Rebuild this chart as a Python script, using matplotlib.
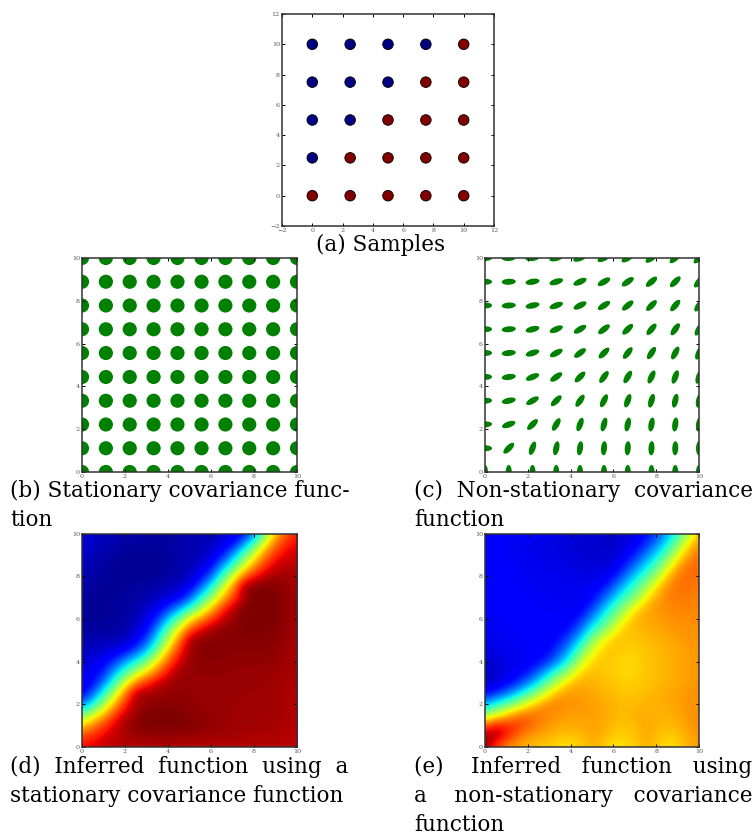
import numpy as np
import matplotlib
matplotlib.use("Agg")
import matplotlib.pyplot as plt
from matplotlib.collections import EllipseCollection

W, H = 756, 835
SERIF = "DejaVu Serif"
TICK_GREY = "#555555"

sample_x = [0, 2.5, 5, 7.5, 10]
sample_y = [0, 2.5, 5, 7.5, 10]
sample_class = [
    [1, 1, 1, 1, 1],
    [0, 1, 1, 1, 1],
    [0, 0, 1, 1, 1],
    [0, 0, 0, 1, 1],
    [0, 0, 0, 0, 1],
]
grid_xy = [0, 1.11, 2.22, 3.33, 4.44, 5.56, 6.67, 7.78, 8.89, 10]
angles = [
    [90, 90, 90, 90, 90, 90, 90, 90, 90, 90],
    [0, 45, 70, 78, 82, 85, 86, 87, 88, 89],
    [5, 20, 45, 60, 70, 75, 78, 80, 82, 83],
    [3, 12, 30, 45, 56, 64, 70, 74, 77, 79],
    [2, 8, 22, 35, 45, 54, 60, 65, 70, 72],
    [1, 6, 18, 28, 37, 45, 52, 57, 62, 66],
    [1, 5, 14, 23, 31, 38, 45, 50, 55, 60],
    [1, 4, 12, 20, 27, 33, 40, 45, 50, 55],
    [0, 3, 10, 17, 24, 30, 35, 41, 45, 50],
    [0, 3, 8, 15, 21, 26, 31, 36, 41, 45],
]
field_d = [
    [.90, .92, .94, .95, .95, .95, .95, .95, .95, .95, .95, .95, .95, .95, .95, .95, .95, .95, .95, .95, .94],
    [.84, .87, .91, .94, .96, .97, .98, .98, .98, .98, .97, .97, .97, .97, .97, .96, .96, .96, .96, .95, .94],
    [.68, .78, .85, .92, .97, .99, 1.0, 1.0, 1.0, 1.0, 1.0, .99, .98, .98, .97, .97, .97, .97, .96, .96, .95],
    [.50, .60, .72, .85, .94, .98, 1.0, 1.0, 1.0, 1.0, .99, .98, .98, .98, .97, .97, .97, .97, .97, .96, .95],
    [.25, .38, .55, .72, .87, .96, .98, .99, .99, .99, .98, .98, .98, .98, .97, .97, .97, .97, .97, .96, .95],
    [.10, .22, .40, .58, .78, .96, .97, .97, .98, .98, .98, .98, .98, .98, .98, .97, .97, .97, .97, .96, .95],
    [.10, .12, .25, .42, .62, .77, .87, .93, .97, .98, .98, .98, .98, .98, .98, .98, .98, .97, .97, .96, .96],
    [.09, .11, .15, .30, .42, .57, .68, .80, .90, .97, .98, .98, .98, .98, .98, .98, .98, .98, .97, .97, .96],
    [.07, .09, .11, .17, .28, .38, .50, .66, .82, .92, .98, .99, .99, .99, .98, .98, .98, .98, .98, .97, .96],
    [.05, .06, .07, .09, .12, .20, .32, .50, .70, .87, .97, .99, .99, .99, .99, .99, .99, .99, .98, .97, .96],
    [.04, .05, .05, .05, .06, .10, .20, .38, .58, .78, .97, .99, .99, .99, .99, .99, .99, .99, .99, .98, .96],
    [.03, .03, .03, .03, .04, .07, .12, .27, .47, .65, .82, .91, .97, .99, .99, 1.0, 1.0, 1.0, .99, .98, .96],
    [.02, .02, .02, .03, .03, .05, .09, .16, .32, .47, .65, .75, .85, .93, .98, 1.0, 1.0, 1.0, 1.0, .98, .97],
    [.03, .02, .02, .03, .03, .04, .07, .10, .17, .27, .40, .55, .70, .85, .95, 1.0, 1.0, 1.0, 1.0, .98, .97],
    [.03, .02, .02, .02, .03, .03, .04, .06, .08, .11, .20, .38, .52, .70, .83, .96, 1.0, 1.0, 1.0, .98, .97],
    [.04, .03, .02, .02, .02, .03, .03, .04, .05, .07, .10, .22, .38, .58, .75, .98, 1.0, 1.0, .99, .98, .96],
    [.05, .03, .03, .02, .02, .02, .02, .02, .03, .04, .06, .11, .22, .42, .60, .78, .89, .95, .97, .97, .96],
    [.06, .04, .03, .02, .02, .02, .02, .02, .03, .04, .05, .08, .12, .27, .42, .60, .75, .86, .93, .95, .94],
    [.07, .05, .04, .03, .02, .02, .02, .02, .03, .04, .04, .05, .08, .13, .28, .45, .62, .78, .87, .92, .93],
    [.08, .06, .05, .04, .03, .03, .03, .03, .03, .04, .04, .05, .06, .09, .12, .27, .45, .65, .80, .88, .91],
    [.08, .07, .06, .05, .04, .04, .03, .03, .03, .04, .04, .04, .05, .07, .09, .12, .25, .50, .70, .82, .88],
]
field_e = [
    [.99, .83, .76, .73, .71, .70, .69, .67, .67, .69, .72, .70, .66, .67, .69, .72, .70, .67, .68, .72, .75],
    [.98, .96, .88, .80, .75, .73, .72, .70, .70, .71, .73, .72, .69, .69, .70, .73, .71, .69, .70, .73, .75],
    [.82, .90, .88, .85, .81, .77, .75, .73, .73, .73, .74, .73, .71, .70, .71, .73, .72, .71, .72, .74, .76],
    [.55, .62, .70, .78, .80, .79, .76, .75, .74, .74, .74, .73, .72, .71, .72, .73, .72, .72, .73, .75, .76],
    [.30, .38, .47, .55, .65, .72, .77, .77, .75, .75, .74, .73, .72, .71, .71, .72, .72, .73, .74, .75, .76],
    [.13, .17, .24, .33, .44, .55, .66, .73, .75, .74, .73, .72, .71, .70, .70, .71, .72, .73, .74, .75, .76],
    [.05, .08, .11, .16, .25, .36, .50, .62, .70, .73, .72, .71, .70, .69, .69, .70, .71, .72, .73, .74, .75],
    [.05, .07, .09, .11, .14, .22, .33, .46, .58, .68, .71, .70, .69, .68, .68, .70, .71, .72, .73, .74, .75],
    [.07, .08, .09, .10, .11, .13, .18, .28, .42, .60, .68, .70, .69, .68, .68, .70, .71, .72, .73, .74, .75],
    [.08, .09, .10, .10, .11, .11, .13, .20, .31, .48, .62, .69, .70, .69, .69, .70, .71, .72, .73, .74, .75],
    [.09, .10, .10, .11, .11, .11, .11, .14, .22, .35, .52, .64, .70, .70, .70, .71, .72, .73, .74, .75, .75],
    [.10, .10, .11, .11, .11, .11, .11, .11, .15, .24, .39, .48, .62, .70, .71, .72, .73, .74, .75, .75, .76],
    [.10, .11, .11, .11, .11, .11, .11, .11, .11, .16, .27, .40, .50, .64, .71, .73, .74, .75, .76, .76, .76],
    [.11, .11, .11, .11, .11, .11, .11, .11, .10, .11, .18, .29, .42, .52, .66, .72, .75, .76, .77, .77, .77],
    [.11, .11, .11, .11, .11, .11, .10, .10, .10, .10, .12, .20, .31, .42, .50, .65, .73, .77, .78, .78, .77],
    [.11, .11, .11, .11, .11, .10, .10, .10, .10, .10, .10, .13, .21, .32, .43, .53, .67, .76, .79, .79, .78],
    [.11, .11, .11, .11, .10, .10, .10, .10, .09, .09, .09, .09, .13, .22, .33, .43, .54, .69, .78, .80, .79],
    [.11, .11, .11, .11, .10, .10, .09, .09, .09, .08, .08, .08, .09, .14, .23, .33, .44, .58, .72, .79, .80],
    [.11, .11, .11, .10, .10, .09, .09, .09, .08, .08, .07, .07, .07, .10, .15, .24, .34, .46, .62, .74, .79],
    [.11, .11, .11, .10, .10, .09, .09, .08, .08, .07, .07, .07, .07, .08, .11, .16, .25, .36, .50, .66, .76],
    [.11, .11, .11, .11, .11, .10, .10, .09, .09, .08, .08, .07, .07, .07, .09, .12, .18, .28, .40, .55, .70],
]
captions = [
    ("(a) Samples", 316, 251, None),
    ("(b) Stationary covariance func-", 10, 497, 353),
    ("tion", 10, 526, None),
    ("(c) Non-stationary covariance", 414, 497, 755),
    ("function", 414, 526, None),
    ("(d) Inferred function using a", 10, 773, 353),
    ("stationary covariance function", 10, 802, 347),
    ("(e) Inferred function using", 414, 773, 755),
    ("a non-stationary covariance", 414, 802, 755),
    ("function", 414, 831, None),
]

plt.rcParams["font.family"] = [SERIF, "DejaVu Sans"]
fig = plt.figure(figsize=(W / 100, H / 100), dpi=100)


def make_axes(left, right, top, bottom, ticks):
    ax = fig.add_axes([left / W, 1 - bottom / H, (right - left) / W, (bottom - top) / H])
    ax.set_xlim(ticks[0], ticks[-1])
    ax.set_ylim(ticks[0], ticks[-1])
    ax.set_xticks(ticks)
    ax.set_yticks(ticks)
    ax.tick_params(direction="in", length=2, width=0.7, top=True, right=True,
                   labelsize=4.6, labelcolor=TICK_GREY, pad=1.5)
    for s in ax.spines.values():
        s.set_linewidth(1.1)
        s.set_color("#333333")
    return ax


t12 = list(range(-2, 13, 2))
t10 = list(range(0, 11, 2))

ax_a = make_axes(282, 494, 14, 226, t12)
xx, yy = np.meshgrid(sample_x, sample_y)
ax_a.scatter(xx.ravel(), yy.ravel(), c=np.array(sample_class).ravel(), cmap="jet",
             vmin=0, vmax=1, s=58, edgecolors="black", linewidths=0.6, zorder=3)

ax_b = make_axes(82, 297, 258, 472, t10)
gx, gy = np.meshgrid(grid_xy, grid_xy)
ax_b.add_collection(EllipseCollection(
    np.full(gx.size, 0.66), np.full(gx.size, 0.66), np.zeros(gx.size), units="xy",
    offsets=np.c_[gx.ravel(), gy.ravel()], offset_transform=ax_b.transData,
    facecolors="green", edgecolors="none"))

ax_c = make_axes(485, 699, 258, 472, t10)
ax_c.add_collection(EllipseCollection(
    np.full(gx.size, 0.66), np.full(gx.size, 0.28), np.array(angles).ravel(), units="xy",
    offsets=np.c_[gx.ravel(), gy.ravel()], offset_transform=ax_c.transData,
    facecolors="green", edgecolors="none"))

for field, (l, r) in ((field_d, (82, 297)), (field_e, (485, 699))):
    ax = make_axes(l, r, 533.5, 747, t10)
    ax.imshow(np.array(field), cmap="jet", vmin=0, vmax=1, origin="lower",
              extent=(-0.25, 10.25, -0.25, 10.25), interpolation="bicubic", aspect="auto")
    ax.set_xlim(0, 10)
    ax.set_ylim(0, 10)

CAP_SIZE = 15.5
renderer = fig.canvas.get_renderer()


def width_of(s):
    t = fig.text(0, 0, s, fontsize=CAP_SIZE)
    w = t.get_window_extent(renderer).width
    t.remove()
    return w


space_w = width_of("a a") - width_of("aa")
for text, x, y, right in captions:
    s = text
    if right is not None:
        words = text.split(" ")
        gaps = len(words) - 1
        extra = max(0, int((right - x - width_of(text)) / space_w))
        s = words[0]
        for i, w in enumerate(words[1:]):
            n = 1 + extra // gaps + (1 if i < extra % gaps else 0)
            s += " " * n + w
    fig.text(x / W, 1 - y / H, s, fontsize=CAP_SIZE, color="black", va="baseline", ha="left")

fig.savefig("out.png", dpi=100)
